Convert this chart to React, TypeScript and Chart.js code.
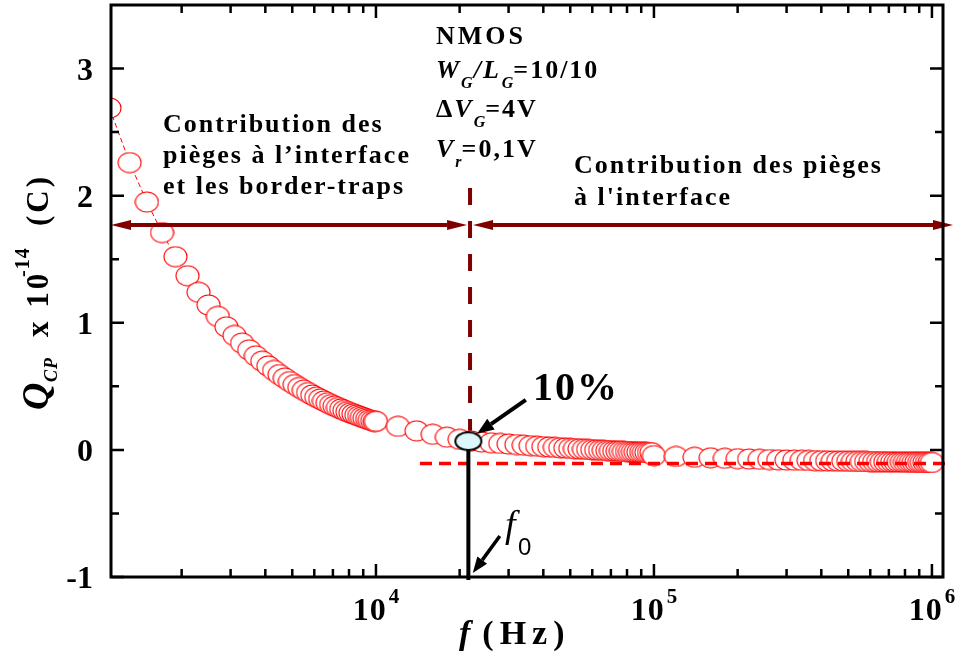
import React, { useEffect, useRef } from "react";
import { Chart, registerables } from "chart.js";

Chart.register(...registerables);

// ---------- data ----------
const FREQ_DECADE_1 = [
  1100, 1300, 1500, 1700, 1900, 2100, 2300, 2500, 2700, 2900, 3100, 3300, 3500, 3700, 3900,
  4100, 4300, 4500, 4700, 4900, 5100, 5300, 5500, 5700, 5900, 6100, 6300, 6500, 6700, 6900,
  7100, 7300, 7500, 7700, 7900, 8100, 8300, 8500, 8700, 8900, 9100, 9300, 9500, 9700, 9900,
];
const Q_DECADE_1 = [
  2.69, 2.26, 1.95, 1.71, 1.52, 1.37, 1.24, 1.14, 1.05, 0.968, 0.9, 0.84, 0.787, 0.74, 0.698,
  0.66, 0.625, 0.593, 0.565, 0.538, 0.514, 0.491, 0.47, 0.451, 0.432, 0.415, 0.4, 0.385, 0.371, 0.357,
  0.345, 0.333, 0.322, 0.311, 0.301, 0.292, 0.283, 0.274, 0.266, 0.258, 0.25, 0.243, 0.236, 0.23, 0.223,
];
const FREQ_DECADE_2 = [
  10000, 12000, 14000, 16000, 18000, 20000, 22000, 24000, 26000, 28000, 30000, 32000, 34000, 36000, 38000,
  40000, 42000, 44000, 46000, 48000, 50000, 52000, 54000, 56000, 58000, 60000, 62000, 64000, 66000, 68000,
  70000, 72000, 74000, 76000, 78000, 80000, 82000, 84000, 86000, 88000, 90000, 92000, 94000, 96000, 98000,
];
const Q_DECADE_2 = [
  0.225, 0.185, 0.15, 0.123, 0.1, 0.083, 0.07, 0.062, 0.056, 0.051, 0.046, 0.042, 0.037, 0.033, 0.029,
  0.026, 0.023, 0.02, 0.017, 0.015, 0.012, 0.01, 0.008, 0.006, 0.004, 0.002, 0.0, -0.002, -0.003, -0.005,
  -0.006, -0.008, -0.009, -0.01, -0.012, -0.013, -0.014, -0.015, -0.016, -0.017, -0.018, -0.019, -0.02, -0.021, -0.022,
];
const FREQ_DECADE_3 = [
  100000, 120000, 140000, 160000, 180000, 200000, 220000, 240000, 260000, 280000, 300000, 320000,
  340000, 360000, 380000, 400000, 420000, 440000, 460000, 480000, 500000, 520000, 540000, 560000,
  580000, 600000, 620000, 640000, 660000, 680000, 700000, 720000, 740000, 760000, 780000, 800000,
  820000, 840000, 860000, 880000, 900000, 920000, 940000, 960000, 980000, 1000000,
];
const Q_DECADE_3 = [
  -0.045, -0.052, -0.058, -0.062, -0.066, -0.069, -0.072, -0.074, -0.076, -0.078, -0.08, -0.081,
  -0.082, -0.083, -0.084, -0.085, -0.086, -0.087, -0.088, -0.088, -0.089, -0.09, -0.09, -0.091,
  -0.091, -0.092, -0.092, -0.093, -0.093, -0.094, -0.094, -0.094, -0.095, -0.095, -0.095, -0.096,
  -0.096, -0.096, -0.097, -0.097, -0.097, -0.098, -0.098, -0.098, -0.099, -0.099,
];

// 10 % point
const MARKER_F = [21500];
const MARKER_Q = [0.068];

// axes
const X_MIN = 1114;
const X_MAX = 1.096e6;
const Y_MIN = -1;
const Y_MAX = 3.5;
const Y_MAJOR_TICKS = [-1, 0, 1, 2, 3];
const Y_TICK_LABELS = ["-1", "0", "1", "2", "3"];
const Y_MINOR_TICKS = [-0.5, 0.5, 1.5, 2.5];
const X_MAJOR_TICKS = [1e4, 1e5, 1e6];
const X_TICK_EXPONENTS = ["4", "5", "6"];
const X_MINOR_MULTIPLIERS = [2, 3, 4, 5, 6, 7, 8, 9];
const X_DECADES = [1e3, 1e4, 1e5];

// annotation anchors (data space)
const F0_LINE = 21800;
const ASYMPTOTE_Q = -0.108;
const ASYMPTOTE_START_F = 14400;
const RANGE_ARROW_Q = 1.77;
const DASH_TOP_Q = 2.06;
const DASH_BOTTOM_Q = 0.15;
const PCT_ARROW = { from: [34600, 0.394], to: [23100, 0.126] };
const F0_ARROW = { from: [27900, -0.677], to: [22300, -0.969] };

const SERIF = "'Liberation Serif', 'Times New Roman', serif";
const SANS = "'Liberation Sans', Arial, sans-serif";
const DARK_RED = "#800000";

type Run = { text: string; font: string; dy?: number; spacing?: number; dx?: number };

function drawRuns(ctx: CanvasRenderingContext2D, x: number, y: number, runs: Run[]) {
  let cx = x;
  for (const r of runs) {
    ctx.font = r.font;
    (ctx as any).letterSpacing = (r.spacing ?? 0) + "px";
    cx += r.dx ?? 0;
    ctx.fillText(r.text, cx, y + (r.dy ?? 0));
    cx += ctx.measureText(r.text).width;
  }
  (ctx as any).letterSpacing = "0px";
  return cx - x;
}

function measureRuns(ctx: CanvasRenderingContext2D, runs: Run[]) {
  let w = 0;
  for (const r of runs) {
    ctx.font = r.font;
    (ctx as any).letterSpacing = (r.spacing ?? 0) + "px";
    w += (r.dx ?? 0) + ctx.measureText(r.text).width;
  }
  (ctx as any).letterSpacing = "0px";
  return w;
}

function arrowHead(
  ctx: CanvasRenderingContext2D,
  x1: number,
  y1: number,
  x2: number,
  y2: number,
  len: number,
  half: number
) {
  const a = Math.atan2(y2 - y1, x2 - x1);
  const bx = x2 - Math.cos(a) * len;
  const by = y2 - Math.sin(a) * len;
  ctx.beginPath();
  ctx.moveTo(x2, y2);
  ctx.lineTo(bx + Math.sin(a) * half, by - Math.cos(a) * half);
  ctx.lineTo(bx - Math.sin(a) * half, by + Math.cos(a) * half);
  ctx.closePath();
  ctx.fill();
  return [bx, by];
}

function arrow(
  ctx: CanvasRenderingContext2D,
  x1: number,
  y1: number,
  x2: number,
  y2: number,
  color: string,
  width: number,
  len: number,
  half: number,
  both = false
) {
  ctx.save();
  ctx.strokeStyle = color;
  ctx.fillStyle = color;
  ctx.lineWidth = width;
  ctx.setLineDash([]);
  const [bx, by] = arrowHead(ctx, x1, y1, x2, y2, len, half);
  let sx = x1,
    sy = y1;
  if (both) {
    const [ax, ay] = arrowHead(ctx, x2, y2, x1, y1, len, half);
    sx = ax;
    sy = ay;
  }
  ctx.beginPath();
  ctx.moveTo(sx, sy);
  ctx.lineTo(bx, by);
  ctx.stroke();
  ctx.restore();
}

const decorPlugin = {
  id: "decor",
  afterDatasetsDraw(chart: any) {
    const ctx: CanvasRenderingContext2D = chart.ctx;
    const xs = chart.scales.x;
    const ys = chart.scales.y;
    const a = chart.chartArea;
    const px = (f: number) => xs.getPixelForValue(f);
    const py = (q: number) => ys.getPixelForValue(q);

    ctx.save();
    // ---- red asymptote dashed line
    ctx.strokeStyle = "#ff0000";
    ctx.lineWidth = 3.5;
    ctx.setLineDash([12, 7]);
    ctx.beginPath();
    ctx.moveTo(px(ASYMPTOTE_START_F), py(ASYMPTOTE_Q));
    ctx.lineTo(a.right + 4, py(ASYMPTOTE_Q));
    ctx.stroke();

    // ---- dark red vertical dashed line
    ctx.strokeStyle = DARK_RED;
    ctx.lineWidth = 4;
    ctx.setLineDash([17, 16]);
    ctx.beginPath();
    ctx.moveTo(px(F0_LINE), py(DASH_TOP_Q));
    ctx.lineTo(px(F0_LINE), py(DASH_BOTTOM_Q));
    ctx.stroke();
    ctx.setLineDash([]);

    // ---- black vertical from 10% point to the axis
    ctx.strokeStyle = "#000";
    ctx.lineWidth = 4;
    ctx.beginPath();
    ctx.moveTo(px(MARKER_F[0]), py(MARKER_Q[0]) + 8);
    ctx.lineTo(px(MARKER_F[0]), a.bottom + 3);
    ctx.stroke();

    // ---- range double arrows
    const ay = py(RANGE_ARROW_Q);
    arrow(ctx, a.left, ay, px(F0_LINE) - 3, ay, DARK_RED, 4, 20, 5, true);
    arrow(ctx, px(F0_LINE) + 3, ay, a.right + 10, ay, DARK_RED, 4, 20, 5, true);

    // ---- black pointer arrows
    arrow(ctx, px(PCT_ARROW.from[0]), py(PCT_ARROW.from[1]), px(PCT_ARROW.to[0]), py(PCT_ARROW.to[1]), "#000", 4, 17, 6.5);
    arrow(ctx, px(F0_ARROW.from[0]), py(F0_ARROW.from[1]), px(F0_ARROW.to[0]), py(F0_ARROW.to[1]), "#000", 3.5, 16, 6);

    // ---- frame
    ctx.strokeStyle = "#000";
    ctx.lineWidth = 3;
    ctx.strokeRect(a.left, a.top, a.right - a.left, a.bottom - a.top);

    // ---- ticks
    ctx.lineWidth = 2.5;
    const MAJ = 13,
      MIN = 8;
    const hTick = (yv: number, len: number) => {
      const y = py(yv);
      ctx.beginPath();
      ctx.moveTo(a.left, y);
      ctx.lineTo(a.left + len, y);
      ctx.moveTo(a.right, y);
      ctx.lineTo(a.right - len, y);
      ctx.stroke();
    };
    const vTick = (xv: number, len: number) => {
      const x = px(xv);
      if (x < a.left + 1 || x > a.right - 1) return;
      ctx.beginPath();
      ctx.moveTo(x, a.bottom);
      ctx.lineTo(x, a.bottom - len);
      ctx.moveTo(x, a.top);
      ctx.lineTo(x, a.top + len);
      ctx.stroke();
    };
    Y_MAJOR_TICKS.forEach((v) => hTick(v, MAJ));
    Y_MINOR_TICKS.forEach((v) => hTick(v, MIN));
    X_MAJOR_TICKS.forEach((v) => vTick(v, MAJ));
    X_DECADES.forEach((d) => X_MINOR_MULTIPLIERS.forEach((m) => vTick(d * m, MIN)));

    // ---- tick labels
    ctx.fillStyle = "#000";
    ctx.textBaseline = "alphabetic";
    ctx.textAlign = "right";
    ctx.font = `bold 32px ${SERIF}`;
    Y_MAJOR_TICKS.forEach((v, i) => {
      ctx.fillText(Y_TICK_LABELS[i], a.left - 18, py(v) + 11);
    });
    ctx.textAlign = "left";
    X_MAJOR_TICKS.forEach((v, i) => {
      const runs: Run[] = [
        { text: "10", font: `bold 32px ${SERIF}`, spacing: 1 },
        { text: X_TICK_EXPONENTS[i], font: `bold 21px ${SERIF}`, dy: -17, dx: 2 },
      ];
      const w = measureRuns(ctx, runs);
      drawRuns(ctx, px(v) - w / 2, a.bottom + 43, runs);
    });

    // ---- axis titles
    drawRuns(ctx, 459, 644, [
      { text: "f", font: `italic bold 34px ${SERIF}` },
      { text: "(Hz)", font: `bold 34px ${SERIF}`, spacing: 6, dx: 12 },
    ]);

    ctx.save();
    ctx.translate(48, 410);
    ctx.rotate(-Math.PI / 2);
    ctx.font = `italic bold 38px ${SERIF}`;
    ctx.fillText("Q", 0, 0);
    ctx.font = `italic bold 18px ${SERIF}`;
    (ctx as any).letterSpacing = "1px";
    ctx.fillText("CP", 28, 9);
    ctx.font = `bold 31px ${SERIF}`;
    (ctx as any).letterSpacing = "3px";
    ctx.fillText("x 10", 73, 0);
    ctx.font = `bold 20px ${SERIF}`;
    (ctx as any).letterSpacing = "1px";
    ctx.fillText("-14", 133, -19);
    ctx.font = `bold 31px ${SERIF}`;
    (ctx as any).letterSpacing = "3px";
    ctx.fillText("(C)", 184, 0);
    (ctx as any).letterSpacing = "0px";
    ctx.restore();

    // ---- text annotations
    const B25 = `bold 26px ${SERIF}`;
    const BI25 = `italic bold 26px ${SERIF}`;
    const BI15 = `italic bold 16px ${SERIF}`;
    drawRuns(ctx, 436, 44, [{ text: "NMOS", font: B25, spacing: 3 }]);
    drawRuns(ctx, 436, 78, [
      { text: "W", font: BI25, spacing: 2 },
      { text: "G", font: BI15, dy: 10 },
      { text: "/L", font: BI25, spacing: 2, dx: 1 },
      { text: "G", font: BI15, dy: 10, dx: 1 },
      { text: "=10/10", font: B25, spacing: 2 },
    ]);
    drawRuns(ctx, 436, 117, [
      { text: "Δ", font: B25, spacing: 2 },
      { text: "V", font: BI25, spacing: 2 },
      { text: "G", font: BI15, dy: 10 },
      { text: "=4V", font: B25, spacing: 2 },
    ]);
    drawRuns(ctx, 436, 157, [
      { text: "V", font: BI25, spacing: 2 },
      { text: "r", font: BI15, dy: 10 },
      { text: "=0,1V", font: B25, spacing: 2 },
    ]);

    const B24 = `bold 26px ${SERIF}`;
    drawRuns(ctx, 163, 132, [{ text: "Contribution des", font: B24, spacing: 2 }]);
    drawRuns(ctx, 163, 163, [{ text: "pièges à l’interface", font: B24, spacing: 2 }]);
    drawRuns(ctx, 163, 194, [{ text: "et les border-traps", font: B24, spacing: 2 }]);
    drawRuns(ctx, 574, 173, [{ text: "Contribution des pièges", font: B24, spacing: 2 }]);
    drawRuns(ctx, 574, 205, [{ text: "à l'interface", font: B24, spacing: 2 }]);

    drawRuns(ctx, 533, 400, [{ text: "10%", font: `bold 40px ${SERIF}`, spacing: 2 }]);
    drawRuns(ctx, 505, 537, [{ text: "f", font: `italic 38px ${SERIF}` }]);
    drawRuns(ctx, 518, 555, [{ text: "0", font: `24px ${SANS}` }]);

    ctx.restore();
  },
};

function makeEllipse(w: number, h: number, rx: number, ry: number, fill: string, stroke: string, lw: number) {
  const c = document.createElement("canvas");
  c.width = w;
  c.height = h;
  const g = c.getContext("2d")!;
  g.beginPath();
  g.ellipse(w / 2, h / 2, rx, ry, 0, 0, Math.PI * 2);
  g.fillStyle = fill;
  g.fill();
  g.lineWidth = lw;
  g.strokeStyle = stroke;
  g.stroke();
  return c;
}

export default function App() {
  const ref = useRef<HTMLCanvasElement | null>(null);

  useEffect(() => {
    if (!ref.current) return;
    const circle = makeEllipse(25, 22, 11.5, 10, "#ffffff", "#ff0000", 1.1);
    const marker = makeEllipse(30, 22, 13, 9, "#dcf8fa", "#000000", 2);

    const freqs = [...FREQ_DECADE_1, ...FREQ_DECADE_2, ...FREQ_DECADE_3];
    const qs = [...Q_DECADE_1, ...Q_DECADE_2, ...Q_DECADE_3];
    const mainData = freqs.map((f, i) => ({ x: f, y: qs[i] }));
    const markerData = MARKER_F.map((f, i) => ({ x: f, y: MARKER_Q[i] }));

    const chart = new Chart(ref.current, {
      type: "scatter",
      data: {
        datasets: [
          {
            label: "10%",
            data: markerData,
            pointStyle: marker as any,
            pointRadius: 12,
            showLine: false,
            order: 0,
          },
          {
            label: "Qcp",
            data: mainData,
            pointStyle: circle as any,
            pointRadius: 12,
            showLine: true,
            borderColor: "#ff0000",
            borderWidth: 1,
            borderDash: [5, 3],
            order: 1,
          },
        ],
      },
      options: {
        responsive: false,
        animation: false,
        events: [],
        layout: { autoPadding: false, padding: { left: 111, right: 16, top: 5, bottom: 78 } },
        plugins: { legend: { display: false }, tooltip: { enabled: false } },
        scales: {
          x: { type: "logarithmic", min: X_MIN, max: X_MAX, display: false },
          y: { type: "linear", min: Y_MIN, max: Y_MAX, display: false },
        },
      },
      plugins: [decorPlugin],
    });
    return () => chart.destroy();
  }, []);

  return (
    <div style={{ position: "absolute", left: 0, top: 0, width: 959, height: 655, background: "#fff" }}>
      <canvas ref={ref} width={959} height={655} style={{ display: "block" }} />
    </div>
  );
}
